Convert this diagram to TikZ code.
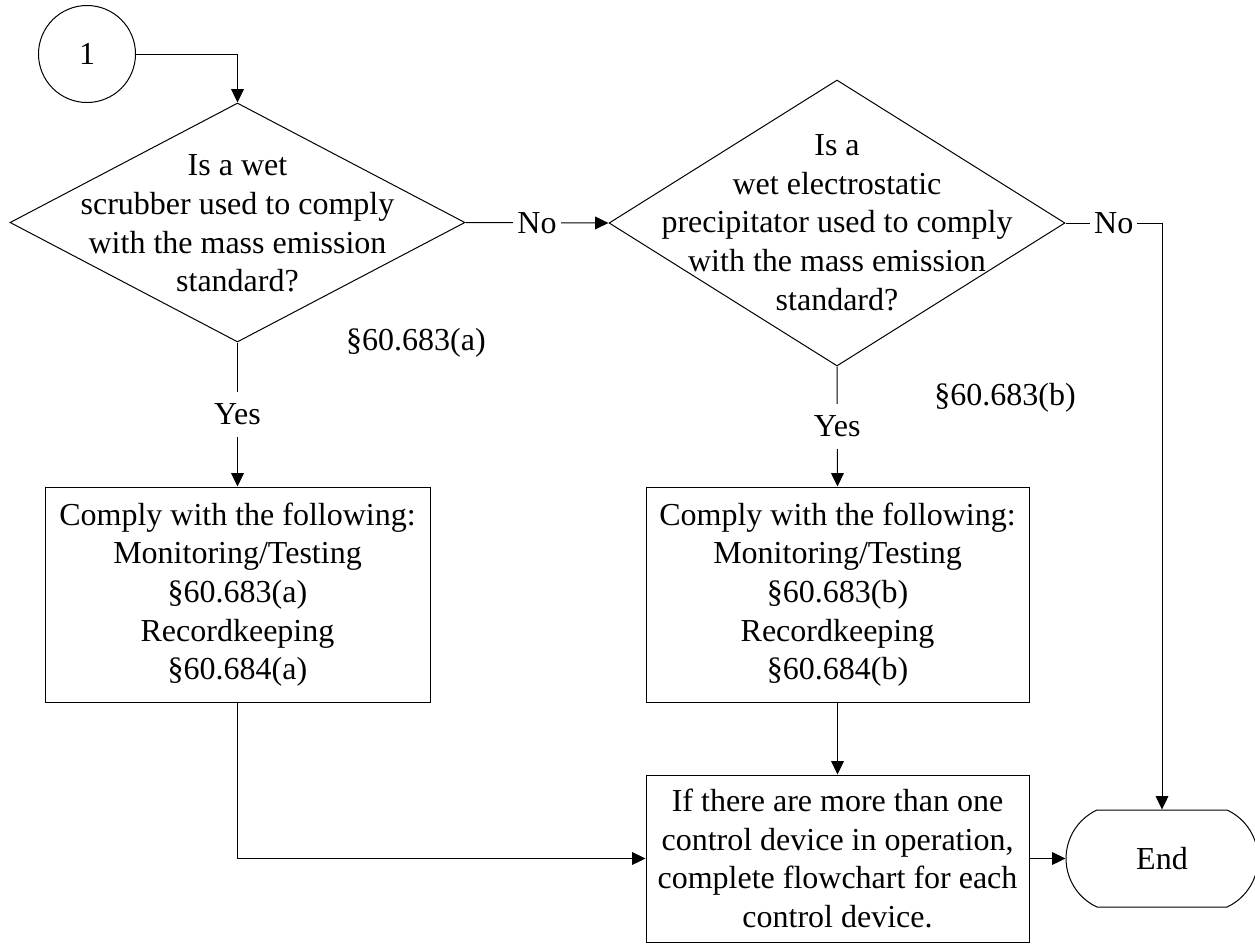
\documentclass[tikz,border=0pt]{standalone}
\usepackage{fontspec}
\setmainfont{Liberation Serif}
\usetikzlibrary{shapes.geometric,shapes.misc,arrows.meta}
\begin{document}
\begin{tikzpicture}[x=0.75pt,y=-0.75pt,
  every node/.style={font=\fontsize{24pt}{29pt}\selectfont, text=black},
  line/.style={draw=black, line width=0.75pt},
  arr/.style={line, -{Triangle[length=10pt,width=9.5pt]}},
  decision/.style={diamond, draw=black, line width=0.75pt, inner sep=0pt},
  procbox/.style={rectangle, draw=black, line width=0.75pt, inner sep=0pt, align=center},
  lbl/.style={fill=white, inner xsep=3pt, inner ysep=9pt},
  txt/.style={align=center, inner sep=0pt}
]
\useasboundingbox (0,0) rectangle (1255,943);

% connector circle
\node[circle, draw=black, line width=0.75pt, minimum size={97*0.75pt}, inner sep=0pt] (c1) at (87,54) {1};

% decisions
\node[decision, minimum width={455*0.75pt}, minimum height={239*0.75pt}] (d1) at (237.5,222.5) {};
\node[txt] (d1t) at (237.5,223.5) {Is a wet\\scrubber used to comply\\with the mass emission\\standard?};

\node[decision, minimum width={456*0.75pt}, minimum height={286*0.75pt}] (d2) at (837,223) {};
\node[txt] (d2t) at (837,222.5) {Is a\\wet electrostatic\\precipitator used to comply\\with the mass emission\\standard?};

% process boxes
\node[procbox, minimum width={385*0.75pt}, minimum height={215*0.75pt}] (b1) at (237.5,594.5)
  {Comply with the following:\\Monitoring/Testing\\\S60.683(a)\\Recordkeeping\\\S60.684(a)};
\node[procbox, minimum width={383*0.75pt}, minimum height={215*0.75pt}] (b2) at (837.5,594.5)
  {Comply with the following:\\Monitoring/Testing\\\S60.683(b)\\Recordkeeping\\\S60.684(b)};
\node[procbox, minimum width={383*0.75pt}, minimum height={167*0.75pt}] (b3) at (837.5,858.5)
  {If there are more than one\\control device in operation,\\complete flowchart for each\\control device.};

% terminator
\node[rounded rectangle, rounded rectangle arc length=130, draw=black, line width=0.75pt,
  minimum width={192*0.75pt}, minimum height={97*0.75pt}, inner sep=0pt] (e) at (1162,858.5) {End};

% reference labels
\node[txt] (r1) at (416,343) {\S60.683(a)};
\node[txt] (r2) at (1005,398) {\S60.683(b)};

% connectors
\draw[arr] (c1.east) -| (d1.north);
\draw[arr] (d1.east) -- node[lbl] (no1) {No} (d2.west);
\draw[arr] (d1.south) -- node[lbl] (yes1) {Yes} (b1.north);
\draw[arr] (d2.south) -- node[lbl] (yes2) {Yes} (b2.north);
\draw[arr] (d2.east) -| node[lbl, pos=0.25] (no2) {No} (e.north);
\draw[arr] (b2.south) -- (b3.north);
\draw[arr] (b1.south) |- (b3.west);
\draw[arr] (b3.east) -- (e.west);
\end{tikzpicture}
\end{document}
